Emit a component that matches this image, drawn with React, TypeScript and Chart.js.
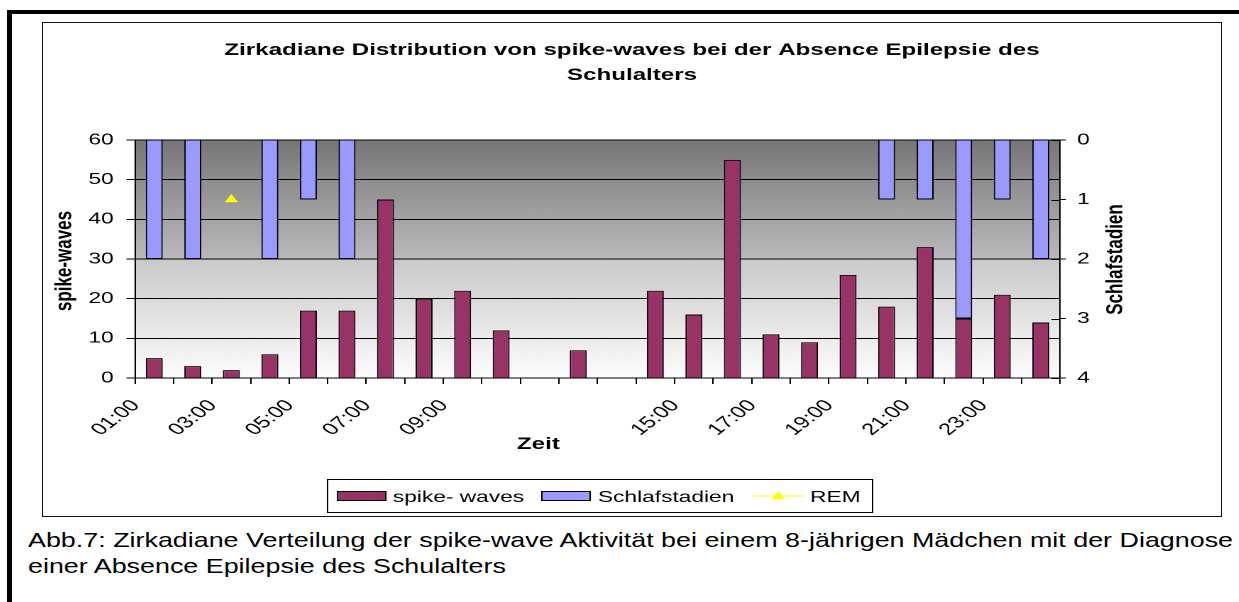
import React, { useEffect, useRef } from 'react';
import { Chart, registerables } from 'chart.js';

Chart.register(...registerables);

// ---------- data ----------
const hours = [
  '01:00', '02:00', '03:00', '04:00', '05:00', '06:00', '07:00', '08:00',
  '09:00', '10:00', '11:00', '12:00', '13:00', '14:00', '15:00', '16:00',
  '17:00', '18:00', '19:00', '20:00', '21:00', '22:00', '23:00', '24:00',
];
const tickLabels = [
  '01:00', '', '03:00', '', '05:00', '', '07:00', '', '09:00', '', '', '',
  '', '', '15:00', '', '17:00', '', '19:00', '', '21:00', '', '23:00', '',
];
const spikeWaves = [5, 3, 2, 6, 17, 17, 45, 20, 22, 12, null, 7, null, 22, 16, 55, 11, 9, 26, 18, 33, 15, 21, 14];
const sleepStages = [2, 2, null, 2, 1, 2, null, null, null, null, null, null, null, null, null, null, null, null, null, 1, 1, 3, 1, 2];
const remPhases = [null, null, 1, null, null, null, null, null, null, null, null, null, null, null, null, null, null, null, null, null, null, null, null, null];

const seriesNames = ['spike- waves', 'Schlafstadien', 'REM'];
const titleLines = ['Zirkadiane Distribution von spike-waves bei der Absence Epilepsie des', 'Schulalters'];
const yTitle = 'spike-waves';
const y1Title = 'Schlafstadien';
const xTitle = 'Zeit';
const captionLines = [
  'Abb.7: Zirkadiane Verteilung der spike-wave Aktivität bei einem 8-jährigen Mädchen mit der Diagnose',
  'einer Absence Epilepsie des Schulalters',
];

// ---------- layout ----------
const CW = 830;
const CH = 493;
const SX = 1178 / CW;
const FONT = '"Liberation Sans", Arial, Helvetica, sans-serif';
const MAROON = '#993366';
const LILAC = '#9999FF';
const YELLOW = '#FFFF00';

function drawTriangle(ctx: CanvasRenderingContext2D, x: number, y: number, r: number) {
  ctx.beginPath();
  let rad = 0;
  ctx.moveTo(x + Math.sin(rad) * r, y - Math.cos(rad) * r);
  rad += (2 * Math.PI) / 3;
  ctx.lineTo(x + Math.sin(rad) * r, y - Math.cos(rad) * r);
  rad += (2 * Math.PI) / 3;
  ctx.lineTo(x + Math.sin(rad) * r, y - Math.cos(rad) * r);
  ctx.closePath();
  ctx.fill();
}

const decorPlugin = {
  id: 'decor',
  beforeDraw(chart: any) {
    const { ctx, chartArea } = chart;
    const { left, top, right, bottom } = chartArea;
    const g = ctx.createLinearGradient(0, top, 0, bottom);
    g.addColorStop(0, '#767676');
    g.addColorStop(0.5, '#bababa');
    g.addColorStop(0.5, '#c9c9c9');
    g.addColorStop(1, '#fdfdfd');
    ctx.save();
    ctx.fillStyle = g;
    ctx.fillRect(left, top, right - left, bottom - top);
    ctx.restore();
  },
  afterDraw(chart: any) {
    const { ctx, chartArea } = chart;
    ctx.save();
    ctx.fillStyle = '#000';
    ctx.strokeStyle = '#000';
    ctx.lineWidth = 1;

    // chart title
    ctx.font = `bold 17px ${FONT}`;
    ctx.textAlign = 'center';
    ctx.textBaseline = 'alphabetic';
    ctx.fillText(titleLines[0], CW / 2, 32);
    ctx.fillText(titleLines[1], CW / 2, 57);

    // axis titles
    ctx.font = `bold 17px ${FONT}`;
    ctx.textBaseline = 'middle';
    ctx.save();
    ctx.translate(15.5, 238);
    ctx.rotate(-Math.PI / 2);
    ctx.fillText(yTitle, 0, 0);
    ctx.restore();
    ctx.save();
    ctx.translate(756, 236.5);
    ctx.rotate(-Math.PI / 2);
    ctx.fillText(y1Title, 0, 0);
    ctx.restore();
    ctx.textBaseline = 'alphabetic';
    ctx.fillText(xTitle, 349, 426);

    // inner part of the crossing ticks on the right axis
    const y1 = chart.scales.y1;
    y1.ticks.forEach((t: any) => {
      const py = Math.round(y1.getPixelForValue(t.value)) + 0.5;
      ctx.beginPath();
      ctx.moveTo(chartArea.right - 6, py);
      ctx.lineTo(chartArea.right, py);
      ctx.stroke();
    });

    // legend
    const ds = chart.data.datasets;
    ctx.strokeRect(200.5, 456.5, 384, 33);
    ctx.font = `16px ${FONT}`;
    ctx.textAlign = 'left';
    ctx.textBaseline = 'alphabetic';
    ctx.fillStyle = ds[0].backgroundColor;
    ctx.fillRect(207.5, 468.5, 34, 9);
    ctx.strokeRect(207.5, 468.5, 34, 9);
    ctx.fillStyle = '#000';
    ctx.fillText(ds[0].label, 246.5, 479);
    ctx.fillStyle = ds[1].backgroundColor;
    ctx.fillRect(351.5, 468.5, 34, 9);
    ctx.strokeRect(351.5, 468.5, 34, 9);
    ctx.fillStyle = '#000';
    ctx.fillText(ds[1].label, 391, 479);
    ctx.strokeStyle = ds[2].borderColor;
    ctx.beginPath();
    ctx.moveTo(500, 473);
    ctx.lineTo(535.5, 473);
    ctx.stroke();
    ctx.fillStyle = ds[2].backgroundColor;
    drawTriangle(ctx, 518, 473.5, 5.5);
    ctx.fillStyle = '#000';
    ctx.fillText(ds[2].label, 540.5, 479);

    ctx.restore();
  },
};

export default function App() {
  const canvasRef = useRef<HTMLCanvasElement>(null);
  const capBoxRef = useRef<HTMLDivElement>(null);
  const capLineRef = useRef<HTMLSpanElement>(null);

  useEffect(() => {
    const canvas = canvasRef.current;
    if (!canvas) return;
    const tickFont = { family: FONT, size: 16 };
    const chart = new Chart(canvas, {
      type: 'bar',
      data: {
        labels: hours,
        datasets: [
          {
            type: 'bar',
            label: seriesNames[0],
            data: spikeWaves,
            yAxisID: 'y',
            backgroundColor: MAROON,
            borderColor: '#000',
            borderWidth: 1,
            grouped: false,
            barPercentage: 0.44,
            categoryPercentage: 1,
            order: 3,
          },
          {
            type: 'bar',
            label: seriesNames[1],
            data: sleepStages,
            yAxisID: 'y1',
            backgroundColor: LILAC,
            borderColor: '#000',
            borderWidth: 1,
            grouped: false,
            barPercentage: 0.44,
            categoryPercentage: 1,
            order: 2,
          },
          {
            type: 'line',
            label: seriesNames[2],
            data: remPhases,
            yAxisID: 'y1',
            borderColor: YELLOW,
            backgroundColor: YELLOW,
            pointStyle: 'triangle',
            pointRadius: 5.5,
            pointBorderWidth: 0,
            showLine: false,
            order: 1,
          },
        ],
      } as any,
      options: {
        responsive: false,
        animation: false,
        devicePixelRatio: 2,
        events: [],
        layout: { padding: { top: 117, left: 0, right: 0, bottom: 0 } },
        plugins: {
          legend: { display: false },
          title: { display: false },
          tooltip: { enabled: false },
        },
        scales: {
          x: {
            offset: true,
            grid: {
              display: true,
              offset: true,
              drawOnChartArea: false,
              drawTicks: true,
              tickLength: 6,
              color: '#000',
            },
            border: { display: true, color: '#000', width: 1 },
            ticks: {
              autoSkip: false,
              maxRotation: 47,
              minRotation: 47,
              padding: 12,
              labelOffset: -13,
              color: '#000',
              font: { family: FONT, size: 16.5 },
              callback: (_v: any, i: number) => tickLabels[i],
            },
            afterFit: (s: any) => {
              s.height = CH - 355;
            },
          },
          y: {
            position: 'left',
            min: 0,
            max: 60,
            grid: { color: '#000', lineWidth: 1, tickLength: 6 },
            border: { display: true, color: '#000', width: 1 },
            ticks: { stepSize: 10, padding: 9, color: '#000', font: tickFont },
            afterFit: (s: any) => {
              s.width = 64.8;
            },
          },
          y1: {
            position: 'right',
            reverse: true,
            min: 0,
            max: 4,
            grid: { drawOnChartArea: false, color: '#000', tickLength: 4 },
            border: { display: true, color: '#000', width: 1 },
            ticks: { stepSize: 1, padding: 8, color: '#000', font: tickFont },
            afterFit: (s: any) => {
              s.width = CW - 716.6;
            },
          },
        },
      } as any,
      plugins: [decorPlugin],
    });
    return () => chart.destroy();
  }, []);

  useEffect(() => {
    const span = capLineRef.current;
    const box = capBoxRef.current;
    if (span && box) {
      const w = span.offsetWidth;
      if (w > 0) box.style.transform = `scaleX(${1205 / w})`;
    }
  }, []);

  return (
    <div
      style={{
        position: 'absolute',
        left: 0,
        top: 0,
        width: 1239,
        height: 602,
        background: '#fff',
        overflow: 'hidden',
        fontFamily: FONT,
      }}
    >
      <div style={{ position: 'absolute', left: 7, top: 10, width: 1232, height: 4, background: '#000' }} />
      <div style={{ position: 'absolute', left: 7, top: 10, width: 5, height: 592, background: '#000' }} />
      <div
        style={{
          position: 'absolute',
          left: 42,
          top: 22,
          width: 1178,
          height: CH,
          border: '1px solid #111',
          background: '#fff',
        }}
      >
        <div style={{ width: CW, height: CH, transform: `scaleX(${SX})`, transformOrigin: '0 0' }}>
          <canvas ref={canvasRef} width={CW} height={CH} style={{ display: 'block' }} />
        </div>
      </div>
      <div
        ref={capBoxRef}
        style={{
          position: 'absolute',
          left: 28,
          top: 527,
          fontSize: 21,
          lineHeight: '26px',
          color: '#000',
          whiteSpace: 'nowrap',
          transformOrigin: '0 0',
        }}
      >
        <div>
          <span ref={capLineRef} style={{ display: 'inline-block' }}>{captionLines[0]}</span>
        </div>
        <div>{captionLines[1]}</div>
      </div>
    </div>
  );
}
